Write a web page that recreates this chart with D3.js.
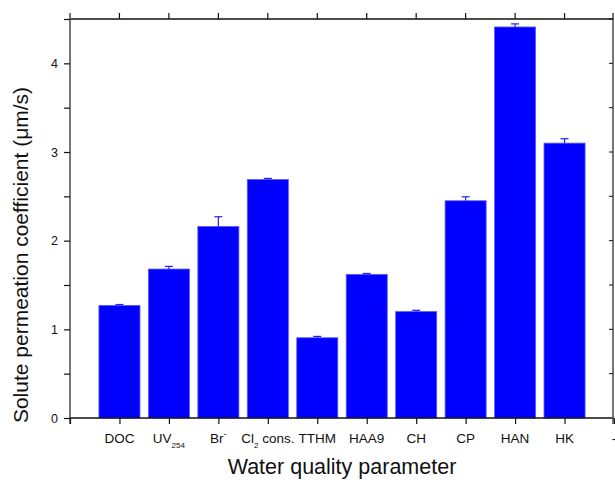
<!DOCTYPE html>
<html>
<head>
<meta charset="utf-8">
<script src="https://cdn.jsdelivr.net/npm/d3@7"></script>
<style>
  body { margin: 0; background: #fff; }
  text { font-family: "Liberation Sans", Arial, sans-serif; fill: #111; }
</style>
</head>
<body>
<div id="chart"></div>
<script>
const categories = ["DOC", "UV254", "Br-", "Cl2 cons.", "TTHM", "HAA9", "CH", "CP", "HAN", "HK"];
const values = [1.27, 1.68, 2.16, 2.69, 0.905, 1.62, 1.2, 2.45, 4.41, 3.1];
const errors = [0.01, 0.03, 0.11, 0.012, 0.015, 0.01, 0.015, 0.045, 0.035, 0.05];
const yTicks = [0, 1, 2, 3, 4];

const width = 615, height = 485;
const margin = { top: 19, right: 1, bottom: 67, left: 70 };

const svg = d3.select("#chart")
  .append("svg")
  .attr("width", width)
  .attr("height", height);

const x = d3.scaleLinear()
  .domain([0, categories.length + 1])
  .range([margin.left, width - margin.right]);

const y = d3.scaleLinear()
  .domain([0, 4.5])
  .range([height - margin.bottom, margin.top]);

const step = x(1) - x(0);
const barW = step * 0.83;

// bars
svg.append("g")
  .selectAll("rect")
  .data(values)
  .join("rect")
  .attr("x", (d, i) => x(i + 1) - barW / 2)
  .attr("y", d => y(d))
  .attr("width", barW)
  .attr("height", d => y(0) - y(d))
  .attr("fill", "#0000ff")
  .attr("stroke", "#5a5aff")
  .attr("stroke-width", 0.8);

// error bars (upper only)
const err = svg.append("g").attr("stroke", "#2020ff").attr("stroke-width", 1.2);
values.forEach((d, i) => {
  const cx = x(i + 1);
  err.append("line")
    .attr("x1", cx).attr("x2", cx)
    .attr("y1", y(d)).attr("y2", y(d + errors[i]));
  err.append("line")
    .attr("x1", cx - 4).attr("x2", cx + 4)
    .attr("y1", y(d + errors[i])).attr("y2", y(d + errors[i]));
});

// frame axes
const plotLeft = x(0), plotRight = x(categories.length + 1);
const plotTop = y(4.5), plotBottom = y(0);

svg.append("line").attr("x1", plotLeft).attr("x2", plotRight).attr("y1", plotTop).attr("y2", plotTop)
  .attr("stroke", "#111").attr("stroke-width", 1.3);
svg.append("line").attr("x1", plotLeft).attr("x2", plotRight).attr("y1", plotBottom).attr("y2", plotBottom)
  .attr("stroke", "#111").attr("stroke-width", 1.3);
svg.append("line").attr("x1", plotLeft).attr("x2", plotLeft).attr("y1", plotTop - 6).attr("y2", plotBottom + 6)
  .attr("stroke", "#555").attr("stroke-width", 1.6);
svg.append("line").attr("x1", plotRight - 1).attr("x2", plotRight - 1).attr("y1", plotTop - 6).attr("y2", plotBottom + 6)
  .attr("stroke", "#555").attr("stroke-width", 1.6);

// y axis
const yAxis = d3.axisLeft(y)
  .tickValues(d3.range(0, 4.51, 0.5))
  .tickSize(6)
  .tickFormat(d => yTicks.includes(d) ? d : "");
const gy = svg.append("g")
  .attr("transform", `translate(${plotLeft},0)`)
  .call(yAxis);
gy.select(".domain").remove();
gy.selectAll(".tick line").attr("stroke", "#111").attr("stroke-width", 1.2);
gy.selectAll(".tick text")
  .attr("x", -12)
  .style("font-size", "12.5px")
  .style("font-family", "Liberation Sans, Arial, sans-serif");

// right ticks (inward)
svg.append("g")
  .selectAll("line")
  .data(d3.range(0.5, 4.51, 0.5))
  .join("line")
  .attr("x1", plotRight - 5).attr("x2", plotRight - 1)
  .attr("y1", d => y(d)).attr("y2", d => y(d))
  .attr("stroke", "#111");

// bottom axis
const xAxis = d3.axisBottom(x)
  .tickValues(d3.range(0, categories.length + 2))
  .tickSize(6)
  .tickFormat("");
const gx = svg.append("g")
  .attr("transform", `translate(0,${plotBottom})`)
  .call(xAxis);
gx.select(".domain").remove();
gx.selectAll(".tick line").attr("stroke", "#111").attr("stroke-width", 1.2);

// top ticks (outward)
svg.append("g")
  .selectAll("line")
  .data(d3.range(1, categories.length + 1))
  .join("line")
  .attr("x1", d => x(d)).attr("x2", d => x(d))
  .attr("y1", plotTop).attr("y2", plotTop - 6)
  .attr("stroke", "#111").attr("stroke-width", 1.2);

// category labels with sub/superscripts
const labelY = plotBottom + 25;
const labels = svg.append("g").style("font-size", "13.5px");
categories.forEach((c, i) => {
  const t = labels.append("text")
    .attr("x", x(i + 1))
    .attr("y", labelY)
    .attr("text-anchor", "middle");
  if (c === "UV254") {
    t.append("tspan").text("UV");
    t.append("tspan").text("254").attr("dy", 5).style("font-size", "8px");
  } else if (c === "Br-") {
    t.append("tspan").text("Br");
    t.append("tspan").text("-").attr("dy", -6).style("font-size", "9px");
  } else if (c === "Cl2 cons.") {
    t.append("tspan").text("Cl");
    t.append("tspan").text("2").attr("dy", 5).style("font-size", "8px");
    t.append("tspan").text(" cons.").attr("dy", -5);
  } else {
    t.text(c);
  }
});
labels.append("text")
  .attr("x", x(categories.length + 1))
  .attr("y", labelY)
  .attr("text-anchor", "middle")
  .text("-");

// axis titles
svg.append("text")
  .attr("x", (plotLeft + plotRight) / 2)
  .attr("y", 474)
  .attr("text-anchor", "middle")
  .style("font-size", "21.5px")
  .text("Water quality parameter");

svg.append("text")
  .attr("transform", `translate(28,${255}) rotate(-90)`)
  .attr("text-anchor", "middle")
  .style("font-size", "21px")
  .text("Solute permeation coefficient (\u03bcm/s)");
</script>
</body>
</html>
